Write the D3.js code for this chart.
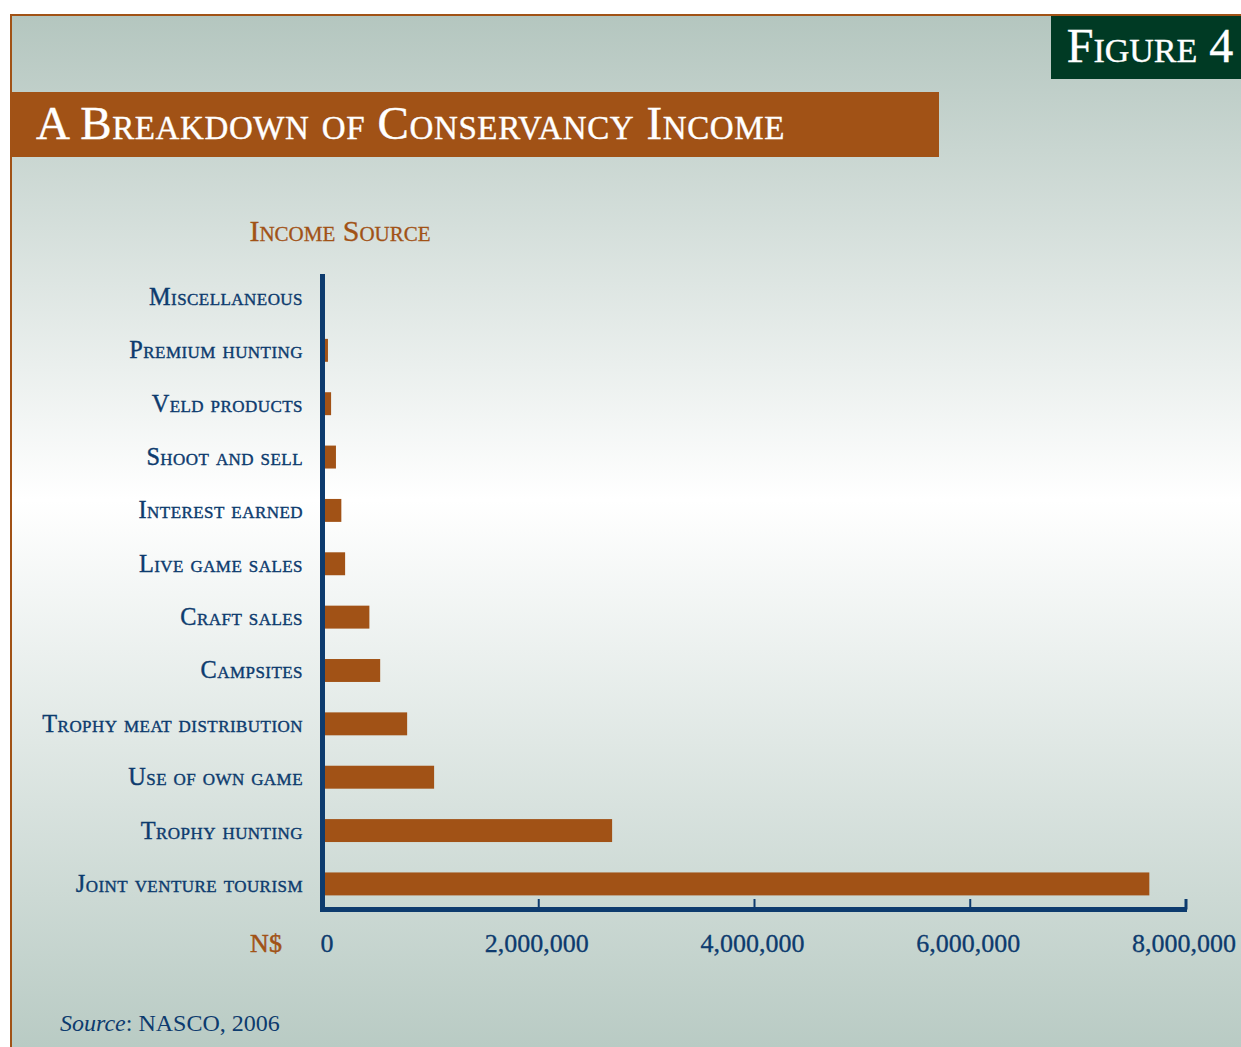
<!DOCTYPE html>
<html>
<head>
<meta charset="utf-8">
<script src="https://cdn.jsdelivr.net/npm/d3@7"></script>
<style>
  html, body { margin: 0; padding: 0; background: #ffffff; }
  svg { display: block; font-family: "Liberation Serif", "DejaVu Serif", serif; }
  .sc { font-variant: small-caps; }
</style>
</head>
<body>
<div id="chart"></div>
<script>
// Income source categories (top to bottom) and values in N$
const categories = [
    "Miscellaneous", "Premium hunting", "Veld products", "Shoot and sell",
    "Interest earned", "Live game sales", "Craft sales", "Campsites",
    "Trophy meat distribution", "Use of own game", "Trophy hunting", "Joint venture tourism"
];
const incomeValues = [
    0, 46000, 75000, 120000,
    170000, 205000, 430000, 530000,
    780000, 1030000, 2680000, 7660000
];
const tickValues = [0, 2000000, 4000000, 6000000, 8000000];

const W = 1241, H = 1047;
const navy = "#0d3b6e", brown = "#a15216", green = "#003a24";

const svg = d3.select("#chart").append("svg")
    .attr("width", W)
    .attr("height", H);

// background gradient
const defs = svg.append("defs");
const grad = defs.append("linearGradient")
    .attr("id", "bg")
    .attr("x1", 0).attr("y1", 0).attr("x2", 0).attr("y2", 1);
grad.append("stop").attr("offset", "0%").attr("stop-color", "#b4c6bf");
grad.append("stop").attr("offset", "47%").attr("stop-color", "#ffffff");
grad.append("stop").attr("offset", "100%").attr("stop-color", "#b9cbc4");

svg.append("rect")
    .attr("x", 11).attr("y", 15)
    .attr("width", W - 11).attr("height", H - 15)
    .attr("fill", "url(#bg)");

// frame lines top and left
svg.append("line").attr("x1", 10).attr("x2", W).attr("y1", 15).attr("y2", 15)
    .attr("stroke", brown).attr("stroke-width", 2);
svg.append("line").attr("x1", 11).attr("x2", 11).attr("y1", 14).attr("y2", H)
    .attr("stroke", brown).attr("stroke-width", 2);

// figure number box
svg.append("rect")
    .attr("x", 1051).attr("y", 16)
    .attr("width", W - 1051).attr("height", 63)
    .attr("fill", green);
svg.append("text")
    .attr("class", "sc")
    .attr("x", 1150).attr("y", 62)
    .attr("text-anchor", "middle")
    .attr("fill", "#ffffff")
    .attr("stroke", "#ffffff").attr("stroke-width", 0.4)
    .attr("font-size", 48)
    .text("Figure 4");

// title bar
svg.append("rect")
    .attr("x", 10).attr("y", 92)
    .attr("width", 929).attr("height", 65)
    .attr("fill", brown);
svg.append("text")
    .attr("class", "sc")
    .attr("x", 36).attr("y", 139)
    .attr("fill", "#ffffff")
    .attr("stroke", "#ffffff").attr("stroke-width", 0.4)
    .attr("font-size", 47)
    .attr("letter-spacing", 0.6)
    .text("A Breakdown of Conservancy Income");

// axis title
svg.append("text")
    .attr("class", "sc")
    .attr("x", 340).attr("y", 241)
    .attr("text-anchor", "middle")
    .attr("fill", brown)
    .attr("stroke", brown).attr("stroke-width", 0.3)
    .attr("font-size", 30)
    .text("Income Source");

// scales
const x = d3.scaleLinear()
    .domain([0, 8000000])
    .range([323, 1186]);

const y = d3.scaleBand()
    .domain(categories)
    .range([270.3, 910.6])
    .paddingInner(0.57)
    .paddingOuter(0.285);

// bars
svg.append("g")
    .selectAll("rect")
    .data(categories)
    .enter().append("rect")
    .attr("x", x(0))
    .attr("y", d => y(d))
    .attr("width", (d, i) => x(incomeValues[i]) - x(0))
    .attr("height", y.bandwidth())
    .attr("fill", brown);

// category labels
svg.append("g")
    .selectAll("text")
    .data(categories)
    .enter().append("text")
    .attr("class", "sc")
    .attr("x", 303)
    .attr("y", d => y(d) + y.bandwidth() / 2 + 8)
    .attr("text-anchor", "end")
    .attr("fill", navy)
    .attr("stroke", navy).attr("stroke-width", 0.4)
    .attr("font-size", 24.3)
    .attr("letter-spacing", 0.45)
    .text(d => d);

// x axis line and ticks
const axisY = 909.5;
svg.append("line")
    .attr("x1", 322).attr("x2", x(8000000) + 1)
    .attr("y1", axisY).attr("y2", axisY)
    .attr("stroke", navy).attr("stroke-width", 5);

svg.append("g")
    .selectAll("line")
    .data(tickValues.slice(1))
    .enter().append("line")
    .attr("x1", d => x(d)).attr("x2", d => x(d))
    .attr("y1", 899).attr("y2", axisY)
    .attr("stroke", navy)
    .attr("stroke-width", (d, i) => i === tickValues.length - 2 ? 3 : 2);

// y axis line
svg.append("line")
    .attr("x1", 322.5).attr("x2", 322.5)
    .attr("y1", 274).attr("y2", axisY + 2.5)
    .attr("stroke", navy).attr("stroke-width", 5);

// tick labels
const fmt = d3.format(",");
svg.append("g")
    .selectAll("text")
    .data(tickValues)
    .enter().append("text")
    .attr("x", d => d === 0 ? x(d) + 4 : x(d) - 2)
    .attr("y", 952)
    .attr("text-anchor", "middle")
    .attr("fill", navy)
    .attr("stroke", navy).attr("stroke-width", 0.3)
    .attr("font-size", 26)
    .text(d => fmt(d));

svg.append("text")
    .attr("x", 266).attr("y", 952)
    .attr("text-anchor", "middle")
    .attr("fill", brown)
    .attr("stroke", brown).attr("stroke-width", 0.5)
    .attr("font-size", 26)
    .text("N$");

// source note
const src = svg.append("text")
    .attr("x", 60).attr("y", 1031)
    .attr("fill", navy)
    .attr("font-size", 24);
src.append("tspan").attr("font-style", "italic").text("Source");
src.append("tspan").text(": NASCO, 2006");
</script>
</body>
</html>
